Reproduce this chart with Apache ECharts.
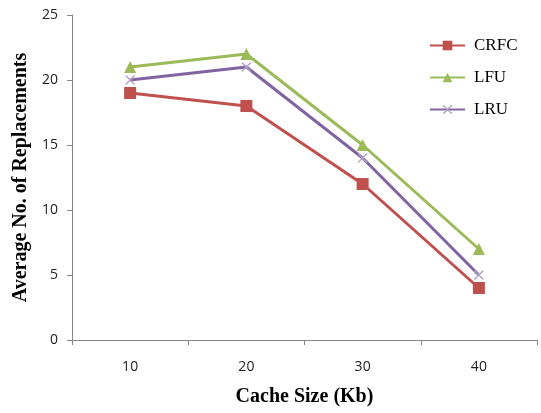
<!DOCTYPE html>
<html><head><meta charset="utf-8">
<script src="https://cdn.jsdelivr.net/npm/echarts@6/dist/echarts.min.js"></script>
<style>html,body{margin:0;padding:0;background:#fff}#c{width:541px;height:413px}</style>
</head><body><div id="c"></div>
<script>
const categories = ['10', '20', '30', '40'];
const crfc = [19, 18, 12, 4];
const lfu = [21, 22, 15, 7];
const lru = [20, 21, 14, 5];
const yTicks = [0, 5, 10, 15, 20, 25];

const crossPath = 'path://M0,1L1,0L5,4L9,0L10,1L6,5L10,9L9,10L5,6L1,10L0,9L4,5Z';
const chart = echarts.init(document.getElementById('c'));
chart.setOption({
  animation: false,
  backgroundColor: '#fff',
  grid: { left: 72, right: 4, top: 15, bottom: 73, containLabel: false, outerBoundsMode: 'none' },
  legend: {
    orient: 'vertical', left: 424, top: 32, itemGap: 15, itemWidth: 35, itemHeight: 12,
    textStyle: { fontFamily: 'Liberation Serif', fontSize: 17, color: '#000', padding: [0, 0, 0, 4] },
    data: ['CRFC', 'LFU', 'LRU']
  },
  xAxis: {
    type: 'category', data: categories, boundaryGap: true,
    name: 'Cache Size (Kb)', nameLocation: 'middle', nameGap: 47,
    nameTextStyle: { fontFamily: 'Liberation Serif', fontWeight: 'bold', fontSize: 20, color: '#000' },
    axisLine: { lineStyle: { color: '#868686', width: 1 } },
    axisTick: { show: true, alignWithLabel: false, length: 5, lineStyle: { color: '#868686' } },
    axisLabel: { fontFamily: 'Open Sans', fontSize: 14, color: '#222', margin: 20 }
  },
  yAxis: {
    type: 'value', min: 0, max: 25, interval: 5,
    name: 'Average No. of Replacements', nameLocation: 'middle', nameGap: 37, nameRotate: 90,
    nameTextStyle: { fontFamily: 'Liberation Serif', fontWeight: 'bold', fontSize: 20, color: '#000' },
    axisLine: { show: true, lineStyle: { color: '#868686', width: 1 } },
    axisTick: { show: true, length: 5, lineStyle: { color: '#868686' } },
    splitLine: { show: false },
    axisLabel: { fontFamily: 'Open Sans', fontSize: 14, color: '#222', margin: 14,
      formatter: v => yTicks.includes(v) ? String(v) : '' }
  },
  series: [
    { name: 'CRFC', type: 'line', data: crfc, symbol: 'rect', symbolSize: 12,
      lineStyle: { color: '#C0504D', width: 3 }, itemStyle: { color: '#C0504D' } },
    { name: 'LFU', type: 'line', data: lfu, symbol: 'triangle', symbolSize: 12,
      lineStyle: { color: '#9BBB59', width: 3 }, itemStyle: { color: '#9BBB59' } },
    { name: 'LRU', type: 'line', data: lru, symbol: crossPath, symbolSize: 10,
      lineStyle: { color: '#8064A2', width: 3 }, itemStyle: { color: '#B3A2C7' } }
  ]
});
</script></body></html>
